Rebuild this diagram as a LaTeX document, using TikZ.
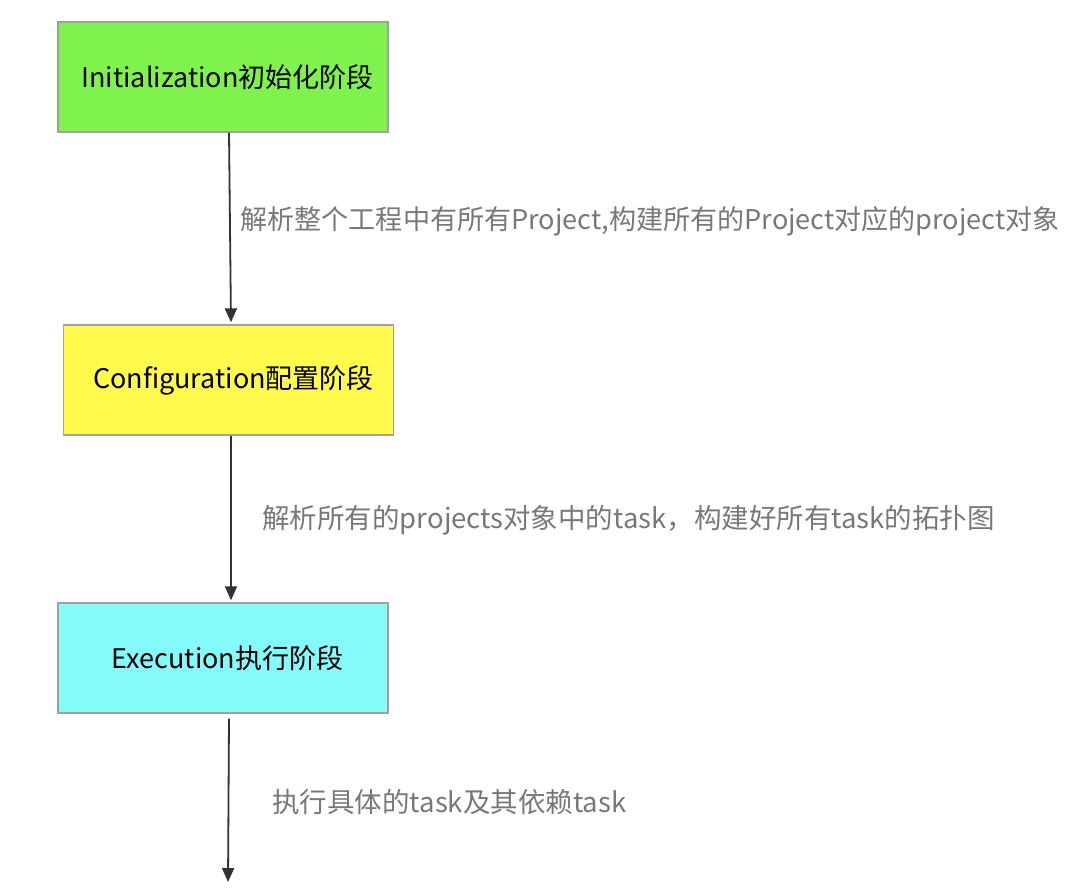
\documentclass[tikz,border=0pt]{standalone}
\usepackage{fontspec}
\setmainfont{Noto Sans CJK SC}
\usetikzlibrary{arrows.meta}
\definecolor{boxgreen}{RGB}{128,242,78}
\definecolor{boxyellow}{RGB}{255,250,75}
\definecolor{boxcyan}{RGB}{132,250,250}
\definecolor{boxline}{RGB}{160,160,160}
\definecolor{labelgray}{RGB}{120,120,120}
\definecolor{arrowline}{RGB}{50,50,50}
\tikzset{
  phasebox/.style={draw=boxline, line width=0.7pt, minimum width=165pt, minimum height=55pt, inner sep=0pt, font=\fontsize{13.5pt}{15pt}\selectfont, text=black},
  steplabel/.style={anchor=west, inner sep=0pt, text=labelgray, font=\fontsize{13.75pt}{15pt}\selectfont},
  flow/.style={draw=arrowline, line width=0.9pt, -{Triangle[length=7pt,width=6pt]}}
}
\begin{document}
\begin{tikzpicture}[x=0.5pt,y=-0.5pt]
\useasboundingbox (0,0) rectangle (1080,888);
\node[phasebox, fill=boxgreen] (b1) at (223,77) {\hspace*{4.5pt}Initialization初始化阶段};
\node[phasebox, fill=boxyellow] (b2) at (228.5,380) {\hspace*{5pt}Configuration配置阶段};
\node[phasebox, fill=boxcyan] (b3) at (223,658) {\hspace*{4.5pt}Execution执行阶段};
\coordinate (end) at (228,882);
\draw[flow] ([xshift=3pt]b1.south) -- ([xshift=1.25pt,yshift=1pt]b2.north);
\draw[flow] ([xshift=1.25pt]b2.south) -- ([xshift=4pt,yshift=1pt]b3.north);
\draw[flow] ([xshift=3pt,yshift=-2.5pt]b3.south) -- (end);
\node[steplabel, font=\fontsize{13.55pt}{15pt}\selectfont] (l1) at (240,221) {解析整个工程中有所有Project,构建所有的Project对应的project对象};
\node[steplabel] (l2) at (262,520) {解析所有的projects对象中的task，构建好所有task的拓扑图};
\node[steplabel] (l3) at (272,802) {执行具体的task及其依赖task};
\end{tikzpicture}
\end{document}
